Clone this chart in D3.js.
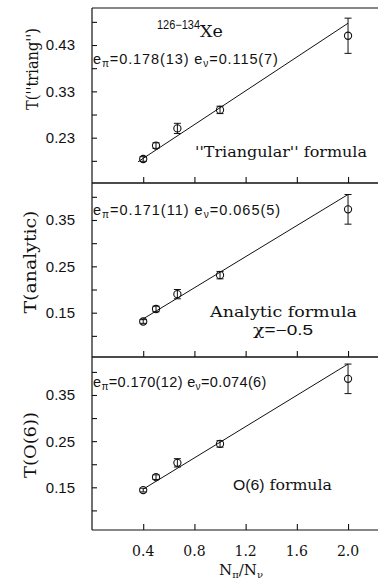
<!DOCTYPE html>
<html>
<head>
<meta charset="utf-8">
<script src="https://cdn.jsdelivr.net/npm/d3@7/dist/d3.min.js"></script>
<style>
  body { margin: 0; background: #fff; }
  svg { display: block; }
</style>
</head>
<body>
<svg id="chart" width="379" height="581"></svg>
<script>
// N_pi / N_nu for 126,128,130,132,134 Xe
const ratios = [0.4, 0.5, 0.667, 1.0, 2.0];
const xTicks = [0.4, 0.8, 1.2, 1.6, 2.0];
const xTickLabels = ["0.4", "0.8", "1.2", "1.6", "2.0"];

// "Triangular" formula
const triangT   = [0.184, 0.213, 0.250, 0.290, 0.450];
const triangErr = [0.005, 0.006, 0.011, 0.008, 0.038];
const triangFitX = [0.36, 2.0];
const triangFitT = [0.178, 0.477];
const triangTicks = [0.18, 0.23, 0.28, 0.33, 0.38, 0.43, 0.48];
const triangTickLabels = ["0.23", "0.33", "0.43"];

// Analytic formula, chi = -0.5
const analyticT   = [0.131, 0.158, 0.190, 0.231, 0.373];
const analyticErr = [0.004, 0.006, 0.010, 0.008, 0.032];
const analyticFitX = [0.39, 2.0];
const analyticFitT = [0.135, 0.405];
const analyticTicks = [0.10, 0.15, 0.20, 0.25, 0.30, 0.35, 0.40];
const analyticTickLabels = ["0.15", "0.25", "0.35"];

// O(6) formula
const o6T   = [0.144, 0.172, 0.203, 0.244, 0.385];
const o6Err = [0.004, 0.005, 0.009, 0.007, 0.032];
const o6FitX = [0.40, 2.0];
const o6FitT = [0.146, 0.417];
const o6Ticks = [0.10, 0.15, 0.20, 0.25, 0.30, 0.35, 0.40];
const o6TickLabels = ["0.15", "0.25", "0.35"];

const SERIF = "'DejaVu Serif', 'Liberation Serif', serif";
const SANS = "'Liberation Sans', Arial, sans-serif";
const INK = "#111";

const svg = d3.select("#chart");
const left = 92, right = 378;

const x = d3.scaleLinear().domain([0, 2.234]).range([left, right]);

const panels = [
  { T: triangT, err: triangErr, fitX: triangFitX, fitT: triangFitT,
    ticks: triangTicks, labels: triangTickLabels,
    domain: [0.1322, 0.5099], top: 8, bottom: 183,
    ylabel: "T(''triang'')", ylabelPos: [38, 69], ylabelLen: 82,
    coef: ["0.178(13)", "0.115(7)"], coefPos: [93, 64], coefSpacing: 0.9 },
  { T: analyticT, err: analyticErr, fitX: analyticFitX, fitT: analyticFitT,
    ticks: analyticTicks, labels: analyticTickLabels,
    domain: [0.0544, 0.4298], top: 183, bottom: 357,
    ylabel: "T(analytic)", ylabelPos: [36, 262], ylabelLen: 103,
    coef: ["0.171(11)", "0.065(5)"], coefPos: [93, 215], coefSpacing: 1.0 },
  { T: o6T, err: o6Err, fitX: o6FitX, fitT: o6FitT,
    ticks: o6Ticks, labels: o6TickLabels,
    domain: [0.0575, 0.4323], top: 357, bottom: 530,
    ylabel: "T(O(6))", ylabelPos: [36, 445], ylabelLen: 66,
    coef: ["0.170(12)", "0.074(6)"], coefPos: [93, 387], coefSpacing: 0.35 }
];

// writes "e_pi=... e_nu=..." with lowered subscripts
function coefText(sel, c) {
  sel.append("tspan").text("e");
  sel.append("tspan").attr("dy", 3).attr("font-size", "0.7em").text("π");
  sel.append("tspan").attr("dy", -3).text("=" + c[0] + " e");
  sel.append("tspan").attr("dy", 3).attr("font-size", "0.7em").text("ν");
  sel.append("tspan").attr("dy", -3).text("=" + c[1]);
}

panels.forEach((p) => {
  const y = d3.scaleLinear().domain(p.domain).range([p.bottom, p.top]);
  const g = svg.append("g");

  // frame: left axis, top and bottom edges
  g.append("line").attr("x1", left).attr("x2", left).attr("y1", p.top).attr("y2", p.bottom)
    .attr("stroke", INK).attr("stroke-width", 1.2);
  g.append("line").attr("x1", left).attr("x2", right).attr("y1", p.top).attr("y2", p.top)
    .attr("stroke", INK).attr("stroke-width", 1.2);
  g.append("line").attr("x1", left).attr("x2", right).attr("y1", p.bottom).attr("y2", p.bottom)
    .attr("stroke", INK).attr("stroke-width", 1.2);

  // y ticks pointing inward
  const yAxis = d3.axisRight(y).tickValues(p.ticks).tickSize(5).tickFormat("");
  const ya = g.append("g").attr("transform", `translate(${left},0)`).call(yAxis);
  ya.select(".domain").remove();
  ya.selectAll(".tick line").attr("stroke", INK).attr("stroke-width", 1.1);

  // y tick labels
  g.selectAll(".ylab").data(p.labels).join("text")
    .attr("x", 75).attr("y", d => y(+d)).attr("dy", "0.36em")
    .attr("text-anchor", "end")
    .attr("font-family", SANS).attr("font-size", 15).attr("fill", INK)
    .text(d => d);

  // x ticks on the bottom edge pointing up
  const xAxis = d3.axisTop(x).tickValues(xTicks).tickSize(6).tickFormat("");
  const xa = g.append("g").attr("transform", `translate(0,${p.bottom})`).call(xAxis);
  xa.select(".domain").remove();
  xa.selectAll(".tick line").attr("stroke", INK).attr("stroke-width", 1.1);

  // y axis title
  g.append("text")
    .attr("transform", `translate(${p.ylabelPos[0]},${p.ylabelPos[1]}) rotate(-90)`)
    .attr("text-anchor", "middle")
    .attr("font-family", SERIF).attr("font-size", 17).attr("fill", INK)
    .attr("textLength", p.ylabelLen).attr("lengthAdjust", "spacingAndGlyphs")
    .text(p.ylabel);

  // fitted line
  const fit = p.fitX.map((v, k) => [v, p.fitT[k]]);
  g.append("path").datum(fit)
    .attr("d", d3.line().x(d => x(d[0])).y(d => y(d[1])))
    .attr("fill", "none").attr("stroke", INK).attr("stroke-width", 1);

  // data points with error bars
  const pts = ratios.map((r, k) => ({ r, t: p.T[k], e: p.err[k] }));
  const pg = g.selectAll(".pt").data(pts).join("g");
  pg.append("line")
    .attr("x1", d => x(d.r)).attr("x2", d => x(d.r))
    .attr("y1", d => y(d.t + d.e)).attr("y2", d => y(d.t - d.e))
    .attr("stroke", INK).attr("stroke-width", 1);
  [1, -1].forEach(s => {
    pg.append("line")
      .attr("x1", d => x(d.r) - 3.5).attr("x2", d => x(d.r) + 3.5)
      .attr("y1", d => y(d.t + s * d.e)).attr("y2", d => y(d.t + s * d.e))
      .attr("stroke", INK).attr("stroke-width", 1);
  });
  pg.append("circle")
    .attr("cx", d => x(d.r)).attr("cy", d => y(d.t)).attr("r", 3.6)
    .attr("fill", "none").attr("stroke", INK).attr("stroke-width", 1.1);

  // coefficient annotation
  const ct = g.append("text")
    .attr("x", p.coefPos[0]).attr("y", p.coefPos[1])
    .attr("font-family", SANS).attr("font-size", 14.5).attr("fill", INK)
    .attr("letter-spacing", p.coefSpacing);
  coefText(ct, p.coef);
});

// panel captions
svg.append("text").attr("x", 157).attr("y", 29)
  .attr("font-family", SANS).attr("font-size", 12).attr("fill", INK)
  .attr("textLength", 43).attr("lengthAdjust", "spacingAndGlyphs")
  .text("126−134");
svg.append("text").attr("x", 200).attr("y", 37)
  .attr("font-family", SERIF).attr("font-size", 17.5).attr("fill", INK)
  .text("Xe");

svg.append("text").attr("x", 195).attr("y", 157)
  .attr("font-family", SERIF).attr("font-size", 15).attr("fill", INK)
  .attr("textLength", 172).attr("lengthAdjust", "spacingAndGlyphs")
  .text("''Triangular'' formula");

svg.append("text").attr("x", 210).attr("y", 317)
  .attr("font-family", SERIF).attr("font-size", 14).attr("fill", INK)
  .attr("textLength", 147).attr("lengthAdjust", "spacingAndGlyphs")
  .text("Analytic formula");

const chi = svg.append("text").attr("x", 253).attr("y", 335).attr("fill", INK)
  .attr("font-size", 14.5).attr("textLength", 60).attr("lengthAdjust", "spacingAndGlyphs");
chi.append("tspan").attr("font-family", SERIF).text("χ");
chi.append("tspan").attr("font-family", SANS).text("=−0.5");

const o6cap = svg.append("text").attr("x", 233).attr("y", 490).attr("fill", INK)
  .attr("textLength", 99).attr("lengthAdjust", "spacingAndGlyphs");
o6cap.append("tspan").attr("font-family", SANS).attr("font-size", 15).text("O(6)");
o6cap.append("tspan").attr("font-family", SERIF).attr("font-size", 15).text(" formula");

// x tick labels below the bottom panel
svg.selectAll(".xlab").data(xTicks).join("text")
  .attr("x", d => x(d)).attr("y", 556)
  .attr("text-anchor", "middle")
  .attr("font-family", SERIF).attr("font-size", 14).attr("fill", INK)
  .text((d, k) => xTickLabels[k]);

// x axis title
const xt = svg.append("text").attr("x", 219).attr("y", 575)
  .attr("font-family", SERIF).attr("font-size", 15).attr("fill", INK);
xt.append("tspan").text("N");
xt.append("tspan").attr("dy", 3).attr("font-size", 10).text("π");
xt.append("tspan").attr("dy", -3).text("/N");
xt.append("tspan").attr("dy", 3).attr("font-size", 10).text("ν");
</script>
</body>
</html>
